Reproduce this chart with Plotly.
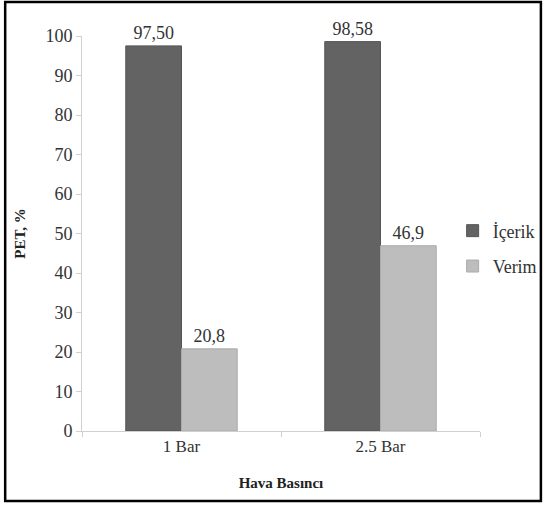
import plotly.graph_objects as go

categories = ["1 Bar", "2.5 Bar"]
icerik = [97.50, 98.58]
verim = [20.8, 46.9]
icerik_labels = ["97,50", "98,58"]
verim_labels = ["20,8", "46,9"]
y_ticks = [0, 10, 20, 30, 40, 50, 60, 70, 80, 90, 100]

FONT = "Liberation Serif"
TXT = "#333333"

fig = go.Figure()
fig.add_trace(go.Bar(
    x=categories, y=icerik, name="İçerik", legendgroup="a",
    marker=dict(color="#636363", line=dict(color="#555555", width=1)),
    text=icerik_labels, textposition="outside", cliponaxis=False,
    textfont=dict(family=FONT, size=18, color=TXT),
))
fig.add_trace(go.Bar(
    x=categories, y=verim, name="Verim", legendgroup="b",
    marker=dict(color="#bdbdbd", line=dict(color="#ababab", width=1)),
    text=verim_labels, textposition="outside", cliponaxis=False,
    textfont=dict(family=FONT, size=18, color=TXT),
))

fig.update_layout(
    width=546, height=506,
    margin=dict(l=82, r=66, t=36, b=75, autoexpand=False),
    paper_bgcolor="white", plot_bgcolor="white",
    barmode="group", bargap=0.44, bargroupgap=0,
    font=dict(family=FONT, size=18, color=TXT),
    showlegend=True,
    legend=dict(xref="container", yref="container", x=0.829, y=0.509,
                xanchor="left", yanchor="middle", traceorder="grouped",
                font=dict(family=FONT, size=18, color=TXT),
                itemwidth=30, tracegroupgap=9, bgcolor="rgba(0,0,0,0)"),
    xaxis=dict(
        showline=True, linecolor="#d0d0d0", linewidth=1,
        ticks="outside", tickson="boundaries", ticklen=5, tickcolor="#d0d0d0",
        tickfont=dict(family=FONT, size=17, color=TXT),
        title=dict(text="<b>Hava Basıncı</b>", font=dict(family=FONT, size=15, color="#222222"), standoff=22),
    ),
    yaxis=dict(
        range=[0, 100], tickvals=y_ticks,
        showline=True, linecolor="#d0d0d0", linewidth=1,
        ticks="outside", ticklen=5, tickcolor="#d0d0d0",
        showgrid=False, zeroline=False,
        tickfont=dict(family=FONT, size=18, color=TXT),
        title=dict(text="<b>PET, %</b>", font=dict(family=FONT, size=15, color="#222222"), standoff=16),
    ),
    shapes=[dict(type="rect", xref="paper", yref="paper",
                 x0=-0.193, x1=1.153, y0=-0.177, y1=1.086,
                 line=dict(color="black", width=2.5), fillcolor="rgba(0,0,0,0)")],
)

fig.write_html("out.html")
